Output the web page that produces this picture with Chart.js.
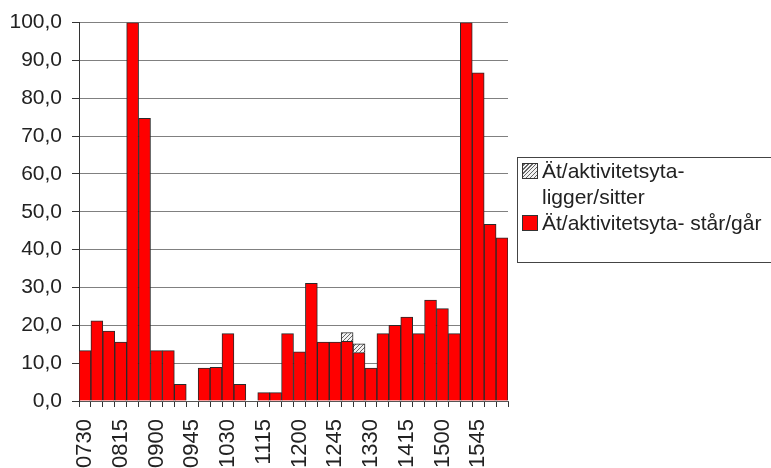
<!DOCTYPE html>
<html>
<head>
<meta charset="utf-8">
<script src="https://cdn.jsdelivr.net/npm/chart.js@4"></script>
<style>
  html, body { margin: 0; padding: 0; background: #fff; overflow: hidden; }
  #wrap { position: relative; width: 771px; height: 468px; }
  #legend {
    position: absolute; left: 517px; top: 157px; width: 270px; height: 106px;
    border: 1px solid #444; box-sizing: border-box;
    font: 21px "Liberation Sans", Arial, sans-serif; color: #222;
    padding-top: 0px;
  }
  .item { position: relative; padding-left: 24px; line-height: 26px; }
  .item .sw {
    position: absolute; left: 4px; top: 5px; width: 14px; height: 14px;
    border: 1px solid #333;
  }
</style>
</head>
<body>
<div id="wrap">
  <canvas id="myChart" width="771" height="468"></canvas>
  <div id="legend"></div>
</div>
<script>
var times = ["0730", "0745", "0800", "0815", "0830", "0845", "0900", "0915", "0930",
             "0945", "1000", "1015", "1030", "1045", "1100", "1115", "1130", "1145",
             "1200", "1215", "1230", "1245", "1300", "1315", "1330", "1345", "1400",
             "1415", "1430", "1445", "1500", "1515", "1530", "1545", "1600", "1615"];

// står/går (red)
var starGar = [13.3, 21.2, 18.5, 15.6, 100, 74.7, 13.3, 13.3, 4.4,
               0, 8.7, 8.9, 17.8, 4.4, 0, 2.2, 2.2, 17.8,
               13.0, 31.1, 15.6, 15.6, 15.8, 12.8, 8.7, 17.8, 20.0,
               22.2, 17.8, 26.7, 24.4, 17.8, 100, 86.7, 46.7, 43.1];

// ligger/sitter (hatched)
var liggerSitter = [null, null, null, null, null, null, null, null, null,
                    null, null, null, null, null, null, null, null, null,
                    null, null, null, null, 2.3, 2.3, null, null, null,
                    null, null, null, null, null, null, null, null, null];

var yTicks = [0, 10, 20, 30, 40, 50, 60, 70, 80, 90, 100];

var legendLines = [["Ät/aktivitetsyta-", "ligger/sitter"], ["Ät/aktivitetsyta- står/går"]];

// hatch pattern
function makeHatch() {
    var c = document.createElement('canvas');
    c.width = 4; c.height = 4;
    var g = c.getContext('2d');
    g.fillStyle = '#f2f2f2';
    g.fillRect(0, 0, 4, 4);
    g.strokeStyle = '#666';
    g.lineWidth = 1;
    g.beginPath();
    g.moveTo(0, 4); g.lineTo(4, 0);
    g.moveTo(-1, 1); g.lineTo(1, -1);
    g.moveTo(3, 5); g.lineTo(5, 3);
    g.stroke();
    return g.createPattern(c, 'repeat');
}
var hatch = makeHatch();

var ctx = document.getElementById('myChart').getContext('2d');
var chart = new Chart(ctx, {
    type: 'bar',
    data: {
        labels: times,
        datasets: [{
            label: legendLines[1].join(' '),
            data: starGar,
            backgroundColor: '#ff0000',
            borderColor: '#2a2a2a',
            borderWidth: 1,
            barPercentage: 1,
            categoryPercentage: 1
        },
        {
            label: legendLines[0].join(' '),
            data: liggerSitter,
            backgroundColor: hatch,
            borderColor: '#2a2a2a',
            borderWidth: 1,
            barPercentage: 1,
            categoryPercentage: 1
        }]
    },
    options: {
        responsive: false,
        animation: false,
        layout: { padding: { left: 0, top: 22, right: 263, bottom: 0 } },
        plugins: { legend: { display: false }, tooltip: { enabled: false } },
        scales: {
            x: {
                stacked: true,
                afterFit: function (s) { s.height = 67; },
                grid: { offset: true, drawOnChartArea: false, drawTicks: true, tickLength: 6, tickColor: '#333' },
                border: { color: '#555' },
                ticks: {
                    autoSkip: false, maxRotation: 90, minRotation: 90, padding: 12,
                    color: '#222',
                    font: { family: '"Liberation Sans", Arial, sans-serif', size: 22 },
                    callback: function (v, i) { return i % 3 === 0 ? times[i] : ''; }
                }
            },
            y: {
                stacked: true,
                min: 0, max: 100,
                afterFit: function (s) { s.width = 79; },
                afterBuildTicks: function (s) { s.ticks = yTicks.map(function (v) { return { value: v }; }); },
                grid: { color: '#808080', tickColor: '#333', tickLength: 7 },
                border: { color: '#333' },
                ticks: {
                    padding: 10, color: '#222',
                    font: { family: '"Liberation Sans", Arial, sans-serif', size: 21 },
                    callback: function (v) { return v.toFixed(1).replace('.', ','); }
                }
            }
        }
    }
});

// legend, hatched entry first as in the original
var lg = document.getElementById('legend');
[[1, hatch], [0, '#ff0000']].forEach(function (e) {
    var item = document.createElement('div');
    item.className = 'item';
    var sw = document.createElement('span');
    sw.className = 'sw';
    if (e[0] === 1) {
        sw.style.background = 'repeating-linear-gradient(-45deg, #f2f2f2 0 1.5px, #666 1.5px 2.8px)';
    } else {
        sw.style.background = e[1];
    }
    item.appendChild(sw);
    var lines = e[0] === 1 ? legendLines[0] : legendLines[1];
    lines.forEach(function (t, k) {
        if (k) item.appendChild(document.createElement('br'));
        item.appendChild(document.createTextNode(t));
    });
    lg.appendChild(item);
});
</script>
</body>
</html>
